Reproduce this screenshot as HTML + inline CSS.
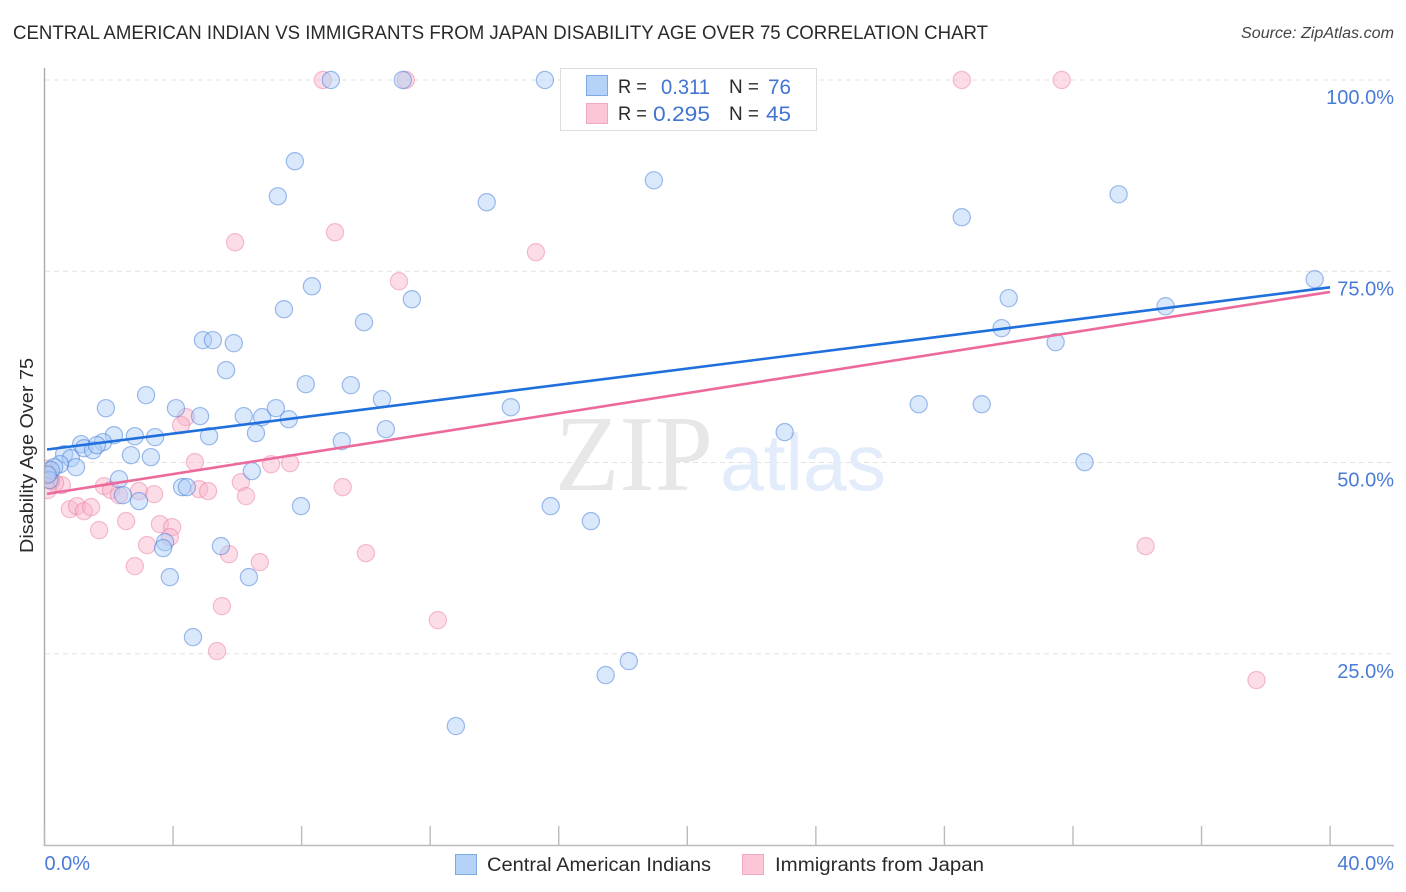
<!DOCTYPE html>
<html lang="en">
<head>
<meta charset="utf-8">
<title>Central American Indian vs Immigrants from Japan Disability Age Over 75 Correlation Chart</title>
<style>
html,body{margin:0;padding:0;background:#fff;width:1406px;height:892px;overflow:hidden}
svg{display:block}
text{font-family:"Liberation Sans",sans-serif}
.tick-label{font-size:20px;fill:#4a7bd6}
.legend-text{font-size:19px;fill:#2a2a2a}
.legend-value{font-size:21px;fill:#4275d2}
</style>
</head>
<body>
<svg id="chart" width="1406" height="892" viewBox="0 0 1406 892" xmlns="http://www.w3.org/2000/svg">
  <defs><clipPath id="plot-clip"><rect x="45" y="60" width="1350" height="785"/></clipPath></defs>
  <text x="13" y="39" font-size="19.5" fill="#2a2a2a" textLength="975" lengthAdjust="spacingAndGlyphs">CENTRAL AMERICAN INDIAN VS IMMIGRANTS FROM JAPAN DISABILITY AGE OVER 75 CORRELATION CHART</text>
  <text x="1241" y="38" font-size="15.5" font-style="italic" fill="#444" textLength="153" lengthAdjust="spacingAndGlyphs">Source: ZipAtlas.com</text>
  <g id="grid"></g>
  <text x="555" y="490" style="font-family:'Liberation Serif',serif" font-size="108" fill="#e7e7e7" textLength="158" lengthAdjust="spacingAndGlyphs">ZIP</text>
  <text x="720" y="490" style="font-family:'Liberation Sans',sans-serif" font-size="80" fill="#e3ecfa" textLength="166" lengthAdjust="spacingAndGlyphs">atlas</text>
  <g id="axes">
    <line x1="44.5" y1="68" x2="44.5" y2="846" stroke="#aaa" stroke-width="1.4"/>
    <line x1="44" y1="845.5" x2="1394" y2="845.5" stroke="#bbb" stroke-width="1.4"/>
  </g>
  <g id="points-pink" clip-path="url(#plot-clip)"></g>
  <g id="points-blue" clip-path="url(#plot-clip)"></g>
  <g id="trends"></g>
  <g id="y-labels"></g>
  <g id="x-labels"></g>

  <g>
    <rect x="560.5" y="68.5" width="256" height="62" fill="#fff" stroke="#ddd" stroke-width="1"/>
    <rect x="586.5" y="75.5" width="21" height="20" fill="#b5d3f8" stroke="#7fa9e2"/>
    <rect x="586.5" y="103.5" width="21" height="20" fill="#fcc6d7" stroke="#f0a8bf"/>
    <text class="legend-text" x="618" y="93" textLength="29" lengthAdjust="spacingAndGlyphs">R =</text>
    <text class="legend-value" x="661" y="94" textLength="49" lengthAdjust="spacingAndGlyphs">0.311</text>
    <text class="legend-text" x="729" y="93" textLength="30" lengthAdjust="spacingAndGlyphs">N =</text>
    <text class="legend-value" x="768" y="94" textLength="23" lengthAdjust="spacingAndGlyphs">76</text>
    <text class="legend-text" x="618" y="120" textLength="29" lengthAdjust="spacingAndGlyphs">R =</text>
    <text class="legend-value" x="653" y="121" textLength="57" lengthAdjust="spacingAndGlyphs">0.295</text>
    <text class="legend-text" x="729" y="120" textLength="30" lengthAdjust="spacingAndGlyphs">N =</text>
    <text class="legend-value" x="766" y="121" textLength="25" lengthAdjust="spacingAndGlyphs">45</text>
  </g>

  <text transform="translate(33,553) rotate(-90)" font-size="18" fill="#2a2a2a" textLength="195" lengthAdjust="spacingAndGlyphs">Disability Age Over 75</text>

  <g>
    <rect x="455.5" y="854.5" width="21" height="20" fill="#b5d3f8" stroke="#7fa9e2"/>
    <text class="legend-text" x="487" y="871" textLength="224" lengthAdjust="spacingAndGlyphs">Central American Indians</text>
    <rect x="742.5" y="854.5" width="21" height="20" fill="#fcc6d7" stroke="#f0a8bf"/>
    <text class="legend-text" x="775" y="871" textLength="209" lengthAdjust="spacingAndGlyphs">Immigrants from Japan</text>
  </g>
</svg>
<script>
var blueX = [8.91,11.15,15.57,7.79,7.26,13.76,18.96,28.54,33.42,39.52,34.88,30.0,29.78,31.46,11.43,8.32,7.45,9.94,4.93,5.24,5.89,5.65,8.13,9.53,3.16,10.5,1.91,4.09,4.84,6.2,6.77,7.2,7.6,14.51,27.2,29.16,23.03,10.62,6.58,5.12,9.25,2.16,2.81,3.44,1.82,1.14,1.23,1.51,1.63,2.69,3.31,0.61,0.82,0.98,0.48,0.3,32.36,6.45,2.32,4.28,4.43,2.44,2.94,7.98,15.75,17.0,5.49,3.75,3.69,3.9,6.36,4.62,18.18,17.46,12.8,0.2,0.15,0.1];
var blueY = [100,100,100,89.38,84.8,84.02,86.89,82.06,85.06,73.96,70.43,71.48,67.56,65.73,71.34,73.04,70.04,68.34,65.99,65.99,65.6,62.07,60.24,60.11,58.8,58.28,57.1,57.1,56.06,56.06,55.93,57.1,55.66,57.23,57.62,57.62,53.97,54.36,53.84,53.44,52.79,53.57,53.44,53.31,52.66,52.4,51.87,51.61,52.27,50.96,50.7,51.09,50.57,49.39,49.78,49.39,50.05,48.87,47.82,46.78,46.78,45.73,44.95,44.3,44.3,42.34,39.07,39.59,38.81,35.02,35.02,27.18,24.04,22.21,15.55,49.0,47.7,48.4];
var pinkX = [8.66,11.24,28.54,31.65,5.93,9.04,15.29,11.03,4.4,4.25,4.68,7.05,7.64,6.11,6.27,4.81,5.09,9.28,1.85,2.07,2.32,2.94,3.41,0.79,1.01,1.23,1.45,2.54,1.7,3.59,3.97,3.9,3.19,5.74,10.0,6.7,2.81,5.52,12.24,5.37,34.26,37.71,0.54,0.33,0.12,0.2,0.1,0.15];
var pinkY = [100,100,100,100,78.79,80.1,77.49,73.7,55.93,54.88,50.05,49.78,49.92,47.43,45.6,46.52,46.26,46.78,46.91,46.39,45.73,46.26,45.86,43.9,44.3,43.64,44.17,42.34,41.16,41.94,41.55,40.25,39.2,38.02,38.15,36.98,36.46,31.23,29.4,25.35,39.07,21.56,47.04,47.3,49.2,47.6,46.4,48.6];
var blueTrendY = [51.7,72.9];
var pinkTrendY = [45.9,72.3];
var trendX = [0.08,40];
var xTicks = [0,4,8,12,16,20,24,28,32,36,40];
var yTicks = [25,50,75,100];
var yTickLabels = ["25.0%","50.0%","75.0%","100.0%"];
var xTickLabels = ["0.0%","40.0%"];
var xLabelValues = [0,40];

var NS = "http://www.w3.org/2000/svg";
function sx(v){ return 44.5 + v * 32.14; }
function sy(v){ return 845 - v * 7.65; }
function make(tag, attrs, parent){
  var el = document.createElementNS(NS, tag);
  for (var k in attrs) el.setAttribute(k, attrs[k]);
  parent.appendChild(el);
  return el;
}

var grid = document.getElementById('grid');
yTicks.forEach(function(v){
  var el = make('line', {x1:45, x2:1394, y1:sy(v), y2:sy(v), stroke:'#e2e2e2', 'stroke-width':1, 'stroke-dasharray':'5 4'}, grid);
  
  
});

var axes = document.getElementById('axes');
xTicks.forEach(function(v){
  var el = make('line', {x1:sx(v), x2:sx(v), y1:826, y2:846, stroke:'#bbb', 'stroke-width':1.4}, axes);
  
  
});

var yLabels = document.getElementById('y-labels');
yTicks.forEach(function(v, i){
  var el = make('text', {x:1394, y:sy(v)+24, 'text-anchor':'end', 'class':'tick-label'}, yLabels);
  el.textContent = yTickLabels[i];
  
  
});

var xLabels = document.getElementById('x-labels');
xLabelValues.forEach(function(v, i){
  var el = make('text', {x: i === 0 ? sx(v) : 1394, y:870, 'text-anchor': i === 0 ? 'start' : 'end', 'class':'tick-label'}, xLabels);
  el.textContent = xTickLabels[i];
  
  
});

var pinkG = document.getElementById('points-pink');
pinkX.forEach(function(v, i){
  var el = make('circle', {cx:sx(v), cy:sy(pinkY[i]), r:8.6, fill:'rgba(248,180,202,0.45)', stroke:'rgba(232,120,155,0.45)', 'stroke-width':1.2}, pinkG);
  
  
});

var blueG = document.getElementById('points-blue');
blueX.forEach(function(v, i){
  var el = make('circle', {cx:sx(v), cy:sy(blueY[i]), r:8.6, fill:'rgba(170,203,246,0.45)', stroke:'rgba(60,120,215,0.48)', 'stroke-width':1.2}, blueG);
  
  
});

var trends = document.getElementById('trends');
var blueLine = make('line', {x1:sx(trendX[0]), x2:sx(trendX[1]), y1:sy(blueTrendY[0]), y2:sy(blueTrendY[1]), stroke:'#1f6fdc', 'stroke-width':2.6}, trends);


var pinkLine = make('line', {x1:sx(trendX[0]), x2:sx(trendX[1]), y1:sy(pinkTrendY[0]), y2:sy(pinkTrendY[1]), stroke:'#ec6a9b', 'stroke-width':2.6}, trends);


</script>
</body>
</html>
